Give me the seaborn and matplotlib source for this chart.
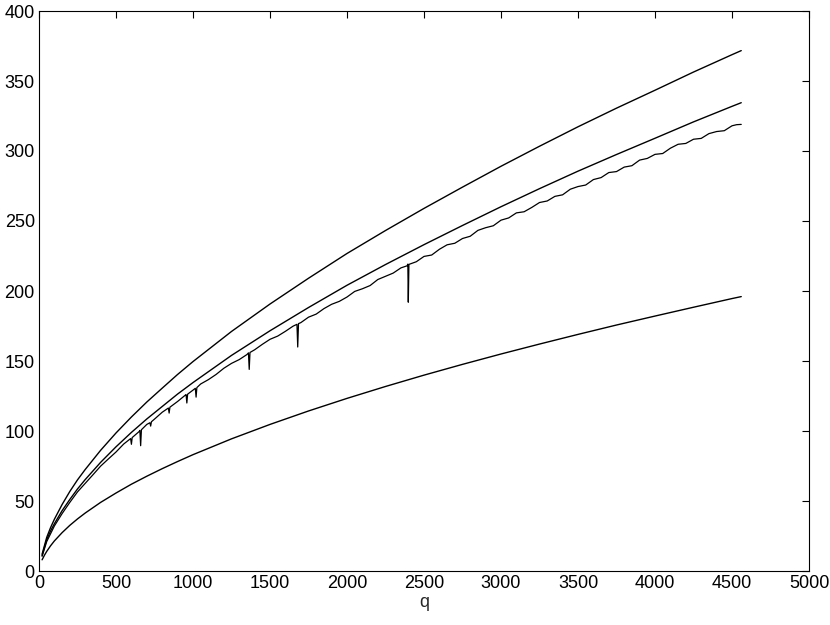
import matplotlib
matplotlib.use("Agg")
import matplotlib.pyplot as plt
import numpy as np
import seaborn as sns

# smooth curves
q_smooth = [20, 35, 50, 75, 100, 150, 200, 250, 300, 400, 500, 600, 700, 800,
            900, 1000, 1250, 1500, 1750, 2000, 2250, 2500, 2750, 3000, 3250,
            3500, 3750, 4000, 4250, 4500, 4560]
upper = [12.0, 18.0, 24.0, 31.0, 37.0, 47.5, 56.8, 65.1, 72.5, 86.2, 98.6,
         110.0, 120.7, 130.6, 140.4, 149.6, 171.1, 190.7, 209.1, 226.8, 243.2,
         259.0, 274.2, 289.1, 303.4, 317.3, 330.6, 343.4, 356.4, 368.8, 371.7]
middle = [11.0, 16.8, 22.3, 28.6, 33.8, 43.1, 51.1, 58.6, 65.3, 77.6, 88.7,
          99.0, 108.6, 117.5, 126.4, 134.6, 154.0, 171.6, 188.2, 204.1, 218.9,
          233.1, 246.8, 260.2, 273.1, 285.6, 297.5, 309.1, 320.8, 331.9, 334.5]
lower = [8.0, 11.2, 14.0, 18.0, 21.5, 27.4, 32.6, 37.2, 41.4, 49.0, 55.7,
         62.0, 67.7, 73.1, 78.2, 83.1, 94.4, 104.7, 114.3, 123.3, 131.8,
         139.9, 147.6, 155.0, 162.1, 169.0, 175.7, 182.1, 188.4, 194.6, 196.0]

# measured (noisy) curve with its dips
q_meas = [20, 50, 100, 150, 200, 250, 300, 350, 400, 450, 500, 550, 595, 600,
          605, 650, 655, 660, 665, 700, 720, 725, 730, 750, 800, 840, 845, 850,
          900, 950, 955, 960, 965, 1000, 1015, 1020, 1025, 1050, 1100, 1150,
          1200, 1250, 1300, 1350, 1360, 1365, 1370, 1400, 1450, 1500, 1550,
          1600, 1650, 1675, 1680, 1685, 1700, 1750, 1800, 1850, 1900, 1950,
          2000, 2050, 2100, 2150, 2200, 2250, 2300, 2350, 2390, 2395, 2398,
          2402, 2450, 2500, 2550, 2600, 2650, 2700, 2750, 2800, 2850, 2900,
          2950, 3000, 3050, 3100, 3150, 3200, 3250, 3300, 3350, 3400, 3450,
          3500, 3550, 3600, 3650, 3700, 3750, 3800, 3850, 3900, 3950, 4000,
          4050, 4100, 4150, 4200, 4250, 4300, 4350, 4400, 4450, 4500, 4530,
          4560]
measured = [10.5, 21.0, 32.2, 41.0, 49.0, 56.5, 62.6, 68.7, 74.9, 80.0, 85.0,
            90.7, 94.6, 90.5, 95.3, 99.6, 100.4, 89.5, 100.9, 104.7, 105.9,
            103.5, 106.6, 108.5, 113.4, 116.4, 112.8, 117.0, 121.1, 125.6,
            126.0, 120.0, 126.3, 129.2, 130.5, 124.2, 131.0, 133.6, 136.7,
            140.4, 144.8, 148.3, 151.0, 154.6, 155.8, 144.0, 156.1, 158.0,
            161.9, 165.5, 167.8, 171.2, 174.9, 176.2, 160.0, 176.7, 177.4,
            181.3, 183.5, 187.4, 190.5, 192.6, 195.7, 199.7, 201.6, 203.9,
            208.2, 210.5, 212.8, 216.5, 218.0, 219.2, 192.0, 219.0, 220.9,
            224.7, 225.7, 229.8, 233.0, 234.1, 237.5, 239.1, 243.3, 245.2,
            246.6, 250.6, 252.2, 255.8, 256.6, 259.7, 263.2, 264.3, 267.6,
            268.7, 272.7, 274.6, 275.7, 279.6, 281.0, 284.6, 285.3, 288.5,
            289.5, 293.5, 294.7, 297.6, 298.2, 302.0, 304.8, 305.4, 308.4,
            309.0, 312.4, 313.9, 314.5, 318.0, 318.8, 319.0]

sns.set_style("white")
plt.rcParams['font.family'] = ['Liberation Sans', 'DejaVu Sans']

fig = plt.figure(figsize=(8.3, 6.25), dpi=100)
ax = fig.add_axes([0.047, 0.0864, 0.9277, 0.896])

for y in [upper, middle, lower]:
    sns.lineplot(x=q_smooth, y=y, color='black', lw=1.0, ax=ax)
sns.lineplot(x=q_meas, y=measured, color='black', lw=0.9, ax=ax)

ax.set_xlim(0, 5000)
ax.set_ylim(0, 400)
ax.set_xticks(np.arange(0, 5001, 500))
ax.set_yticks(np.arange(0, 401, 50))
ax.set_xlabel('q', fontsize=13, labelpad=1)
ax.set_ylabel('')
ax.tick_params(direction='in', top=True, right=True, length=5, width=0.8,
               labelsize=13, colors='black', pad=3)
for s in ax.spines.values():
    s.set_color('black')
    s.set_linewidth(0.8)

fig.savefig('out.png', dpi=100)
